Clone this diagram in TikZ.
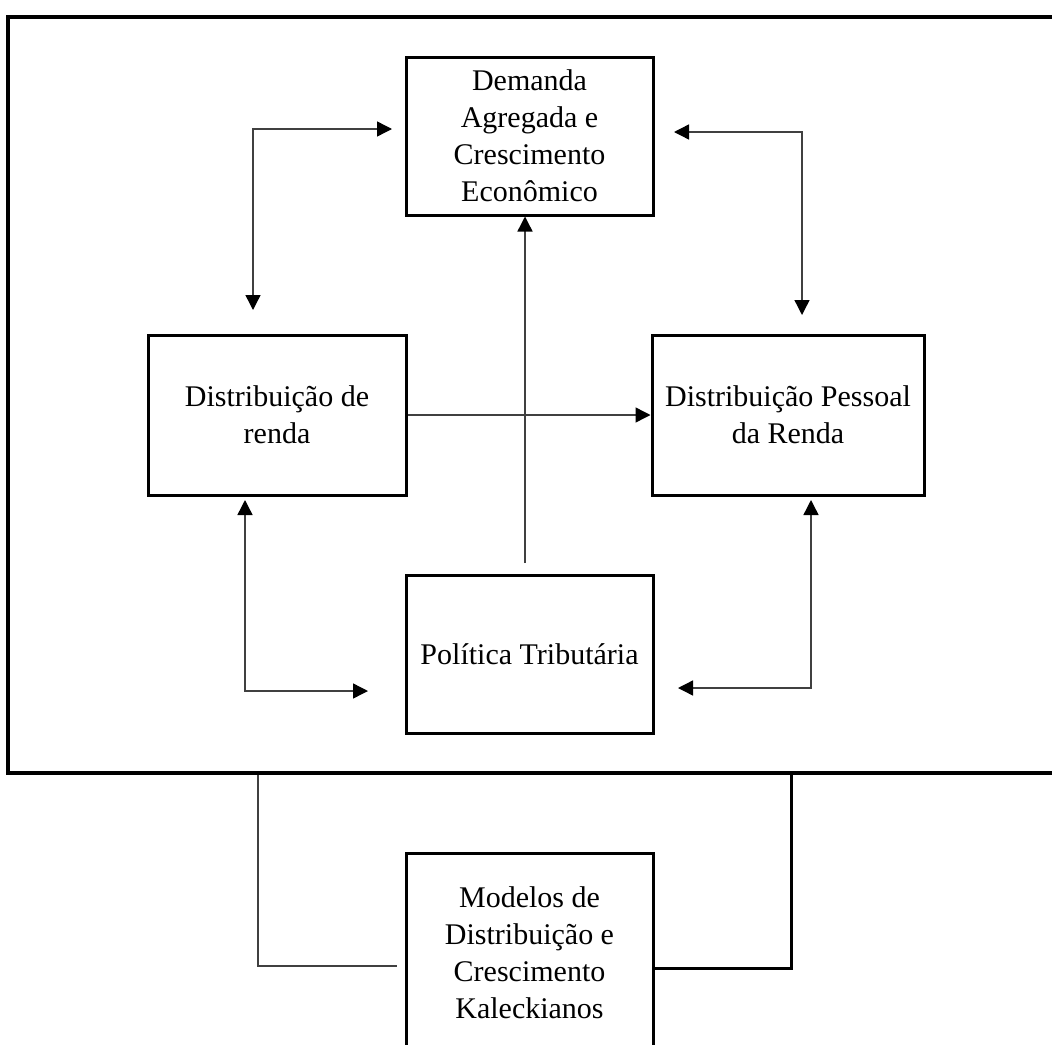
\documentclass[tikz,border=0pt]{standalone}
\usepackage{fontspec}
\setmainfont{Liberation Serif}
\usetikzlibrary{arrows.meta,calc}
\begin{document}
\begin{tikzpicture}[x=1pt,y=-1pt,
  box/.style={draw, line width=3pt, align=center, inner sep=0pt,
    font=\fontsize{30}{37}\selectfont},
  thinline/.style={line width=1.4pt, draw=black!75},
  tip/.style={},
  dbl/.style={thinline, {Triangle[length=15pt,width=15pt,color=black]}-{Triangle[length=15pt,width=15pt,color=black]}},
  arr/.style={thinline, -{Triangle[length=15pt,width=15pt,color=black]}}]
\useasboundingbox (0,0) rectangle (1052,1044);
\clip (0,0) rectangle (1052,1044);

% outer frame (open on the right)
\draw[line width=4.5pt] (1070,17) -- (8,17) -- (8,773) -- (1070,773);

% boxes
\node[box, minimum width=247pt, minimum height=158pt] (T) at (529.5,136) {Demanda\\Agregada e\\Crescimento\\Econômico};
\node[box, minimum width=258pt, minimum height=160pt] (L) at (277,415) {Distribuição de\\renda};
\node[box, minimum width=272pt, minimum height=160pt] (R) at (788,415) {Distribuição Pessoal\\da Renda};
\node[box, minimum width=247pt, minimum height=158pt] (B) at (529.5,654) {Política Tributária};
\node[box, minimum width=247pt, minimum height=200pt] (M) at (529.5,953) {Modelos de\\Distribuição e\\Crescimento\\Kaleckianos};

% connector end points
\coordinate (tl1) at (253,310);
\coordinate (tl2) at (392,129);
\coordinate (tr1) at (674,132);
\coordinate (tr2) at (802,315);
\coordinate (bl1) at (245,500);
\coordinate (bl2) at (368,691);
\coordinate (br1) at (811,500);
\coordinate (br2) at (678,688);
\coordinate (v0) at (525,563);
\coordinate (ml0) at (258,775);
\coordinate (ml1) at (397,966);
\coordinate (mr0) at (791,775);

% connectors
\draw[dbl] (tl1) |- (tl2);
\draw[dbl] (tr1) -| (tr2);
\draw[dbl] (bl1) |- (bl2);
\draw[dbl] (br2) -| (br1);
\draw[arr] (L.east) -- (R.west);
\draw[arr] (v0) -- (v0 |- T.south);
\draw[thinline] (ml0) |- (ml1);
\draw[line width=3pt] (mr0) |- (M.east |- 0,968);
\end{tikzpicture}
\end{document}
